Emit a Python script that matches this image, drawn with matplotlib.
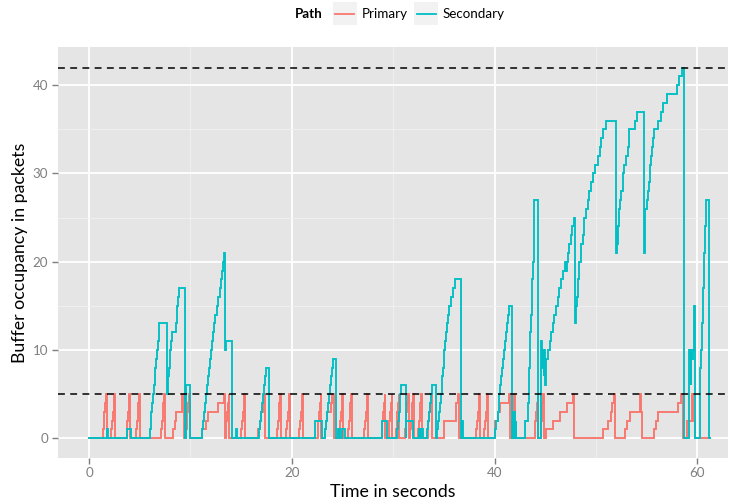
import matplotlib
matplotlib.use("Agg")
import matplotlib.pyplot as plt
from matplotlib.patches import Rectangle
from matplotlib.lines import Line2D
import numpy as np

plt.rcParams["font.family"] = ["Lato", "DejaVu Sans"]

# Buffer occupancy (packets) over time (s), as (time, level) change points
primary_steps = [
    (0, 0),
    (1.35, 1), (1.43, 2), (1.5, 3), (1.58, 4), (1.66, 5), (1.74, 0),
    (2.2, 1), (2.28, 2), (2.35, 3), (2.42, 4), (2.5, 5), (2.57, 0),
    (3.7, 1), (3.78, 2), (3.85, 3), (3.92, 4), (3.98, 5), (4.05, 0),
    (4.65, 1), (4.73, 2), (4.8, 3), (4.87, 4), (4.95, 5), (5.02, 0),
    (7.1, 1), (7.18, 2), (7.26, 3), (7.34, 4), (7.42, 5), (7.5, 0),
    (8.3, 1), (8.45, 2), (8.6, 3), (9.22, 5), (9.32, 0),
    (9.55, 1), (9.62, 2), (9.7, 3), (9.78, 4), (9.86, 5), (9.92, 0),
    (11.1, 1), (11.5, 2), (11.7, 3), (12.7, 4), (13.3, 5), (13.42, 0),
    (13.5, 2), (13.6, 3), (13.68, 4), (13.76, 5), (13.82, 0),
    (15.0, 1), (15.08, 2), (15.16, 3), (15.24, 4), (15.32, 5), (15.4, 0),
    (16.7, 1), (16.85, 2), (17.0, 3), (17.15, 4), (17.3, 5), (17.38, 0),
    (18.55, 1), (18.63, 2), (18.7, 3), (18.78, 4), (18.86, 5), (18.93, 0),
    (19.45, 1), (19.53, 2), (19.6, 3), (19.68, 4), (19.76, 5), (19.83, 0),
    (20.75, 1), (20.83, 2), (20.9, 3), (20.98, 4), (21.05, 5), (21.12, 0),
    (22.55, 1), (22.63, 2), (22.7, 3), (22.78, 4), (22.85, 5), (22.92, 0),
    (23.25, 1), (23.35, 2), (23.45, 3), (23.9, 4), (24.0, 5), (24.12, 0),
    (24.7, 1), (24.78, 2), (24.85, 3), (24.92, 4), (25.0, 5), (25.06, 0),
    (25.55, 1), (25.63, 2), (25.7, 3), (25.78, 4), (25.86, 5), (25.92, 0),
    (27.15, 1), (27.23, 2), (27.3, 3), (27.38, 4), (27.46, 5), (27.52, 0),
    (28.85, 1), (28.93, 2), (29.0, 3), (29.08, 4), (29.16, 5), (29.22, 0),
    (29.55, 1), (29.63, 2), (29.7, 3), (29.78, 4), (29.86, 5), (29.92, 0),
    (30.25, 1), (30.33, 2), (30.4, 3), (30.48, 4), (30.56, 5), (30.62, 0),
    (31.15, 1), (31.23, 2), (31.3, 3), (31.38, 4), (31.46, 5), (31.52, 0),
    (31.68, 1), (31.76, 2), (31.83, 3), (31.9, 4), (31.97, 5), (32.03, 0),
    (32.45, 1), (32.53, 2), (32.6, 3), (32.68, 4), (32.76, 5), (32.82, 0),
    (33.4, 1), (33.48, 2), (33.56, 3), (33.64, 4), (33.72, 5), (33.8, 0),
    (35.0, 2), (36.2, 4), (36.38, 5), (36.5, 0),
    (38.2, 1), (38.28, 2), (38.35, 3), (38.43, 4), (38.5, 5), (38.56, 0),
    (39.0, 1), (39.08, 2), (39.15, 3), (39.23, 4), (39.3, 5), (39.36, 0),
    (40.05, 2), (40.3, 3), (40.55, 4), (41.4, 5), (41.55, 0),
    (41.7, 2), (41.8, 3), (41.88, 4), (41.95, 5), (42.02, 0),
    (43.95, 1), (44.03, 2), (44.1, 3), (44.18, 4), (44.25, 5), (44.32, 0),
    (44.55, 2), (44.63, 3), (44.7, 4), (44.78, 5), (44.85, 0),
    (45.1, 1), (45.8, 2), (46.45, 3), (47.1, 4), (47.75, 5), (47.85, 0),
    (50.65, 1), (51.2, 2), (51.45, 3), (51.62, 4), (51.78, 5), (51.92, 0),
    (52.9, 1), (53.1, 2), (53.35, 3), (54.3, 5), (54.4, 3), (54.55, 0),
    (55.7, 1), (55.9, 2), (56.1, 3), (58.1, 4), (58.35, 5), (58.6, 0),
    (58.95, 2), (59.45, 5), (59.55, 2), (59.75, 0), (61.2, 0),
]

secondary_steps = [
    (0, 0), (1.75, 1), (1.85, 0), (3.7, 1), (4.15, 0),
    (6.0, 1), (6.08, 2), (6.15, 3), (6.23, 4), (6.3, 5), (6.38, 6), (6.46, 7),
    (6.54, 8), (6.62, 9), (6.7, 10), (6.78, 11), (6.86, 12), (6.95, 13),
    (7.68, 5), (7.75, 6), (7.8, 7), (7.88, 8), (7.95, 9), (8.02, 10), (8.1, 11),
    (8.2, 12), (8.55, 13), (8.65, 14), (8.72, 15), (8.8, 16), (8.88, 17),
    (9.45, 0), (9.55, 6), (9.98, 0),
    (11.1, 1), (11.2, 2), (11.3, 3), (11.4, 4), (11.5, 5), (11.6, 6), (11.7, 7),
    (11.8, 8), (11.9, 9), (12.0, 10), (12.1, 11), (12.25, 12), (12.35, 13),
    (12.45, 14), (12.6, 15), (12.75, 16), (12.88, 17), (12.98, 18), (13.08, 19),
    (13.18, 20), (13.28, 21), (13.45, 10), (13.52, 11), (14.1, 0),
    (14.45, 1), (14.55, 0),
    (16.8, 1), (16.9, 2), (17.0, 3), (17.1, 4), (17.2, 5), (17.3, 6), (17.4, 7),
    (17.5, 8), (17.8, 0),
    (22.3, 2), (22.95, 0),
    (23.3, 1), (23.4, 2), (23.5, 3), (23.6, 4), (23.7, 5), (23.78, 6),
    (23.86, 7), (23.94, 8), (24.02, 9), (24.4, 0),
    (24.55, 1), (24.75, 0), (24.95, 1), (25.25, 0),
    (28.85, 2), (29.35, 0),
    (30.4, 1), (30.5, 2), (30.56, 3), (30.64, 4), (30.72, 5), (30.8, 6),
    (31.22, 0), (31.3, 2), (31.95, 0), (32.5, 1), (32.6, 0), (32.75, 1), (32.9, 0),
    (33.3, 1), (33.4, 2), (33.5, 3), (33.6, 4), (33.7, 5), (33.8, 6), (34.22, 0),
    (34.35, 1), (34.45, 2), (34.55, 3), (34.65, 4), (34.75, 5), (34.8, 6),
    (34.85, 7), (34.95, 8), (35.0, 9), (35.05, 10), (35.15, 11), (35.25, 12),
    (35.35, 13), (35.45, 14), (35.55, 15), (35.7, 16), (35.85, 17), (36.05, 18),
    (36.7, 0), (36.8, 2), (36.9, 0),
    (40.0, 1), (40.1, 2), (40.3, 3), (40.42, 5), (40.5, 6), (40.62, 7),
    (40.72, 8), (40.82, 9), (40.95, 10), (41.03, 11), (41.12, 12), (41.22, 13),
    (41.32, 14), (41.42, 15), (41.72, 0), (41.8, 3), (41.85, 0), (41.95, 3),
    (42.0, 0), (42.08, 2), (42.15, 0),
    (43.0, 2), (43.28, 4), (43.35, 6), (43.42, 8), (43.48, 10), (43.54, 12),
    (43.6, 14), (43.66, 16), (43.72, 18), (43.78, 20), (43.84, 23), (43.9, 27),
    (44.28, 0),
    (44.6, 11), (44.68, 8), (44.76, 10), (44.84, 7), (44.92, 10), (45.0, 6),
    (45.1, 9), (45.25, 10), (45.42, 11), (45.58, 12), (45.75, 13), (45.9, 14),
    (46.07, 15), (46.23, 16), (46.4, 17), (46.56, 18), (46.73, 19), (46.9, 20),
    (47.05, 19), (47.1, 20), (47.2, 21), (47.38, 22), (47.52, 23), (47.68, 24),
    (47.82, 25), (47.92, 13), (48.0, 15), (48.08, 16), (48.2, 18), (48.35, 20),
    (48.5, 22), (48.68, 23), (48.85, 25), (49.0, 26), (49.18, 27), (49.35, 28),
    (49.5, 29), (49.68, 30), (49.95, 31), (50.18, 32), (50.35, 33), (50.5, 34),
    (50.72, 35), (51.0, 36), (52.0, 21), (52.06, 24), (52.12, 22), (52.18, 24),
    (52.3, 26), (52.38, 27), (52.5, 28), (52.62, 29), (52.7, 30), (52.8, 31),
    (52.98, 32), (53.15, 33), (53.22, 34), (53.3, 35), (53.8, 36), (54.05, 37),
    (54.7, 21), (54.8, 24), (54.88, 26), (55.0, 27), (55.1, 28), (55.2, 29),
    (55.28, 30), (55.32, 31), (55.38, 32), (55.52, 33), (55.6, 34), (55.68, 35),
    (56.1, 36), (56.4, 37), (56.65, 38), (57.03, 39), (57.96, 40), (58.21, 41),
    (58.45, 42), (58.68, 0),
    (59.2, 10), (59.3, 9), (59.34, 6), (59.38, 10), (59.48, 9), (59.55, 10),
    (59.65, 15), (59.8, 0),
    (60.3, 8), (60.38, 10), (60.48, 13), (60.58, 17), (60.68, 21), (60.78, 24),
    (60.88, 27), (61.12, 0), (61.2, 0),
]

series_names = ["Primary", "Secondary"]
series_colors = ["#F8766D", "#00BFC4"]
threshold_levels = [5, 42]
x_ticks = [0, 20, 40, 60]
y_ticks = [0, 10, 20, 30, 40]

fig = plt.figure(figsize=(7.29, 5.04), dpi=100)
W, H = 729, 504
ax = fig.add_axes([57.7 / W, (H - 457.7) / H, (727.5 - 57.7) / W, (457.7 - 47) / H])
ax.set_facecolor("#E5E5E5")

for name, color, steps in zip(series_names, series_colors,
                              [primary_steps, secondary_steps]):
    t = np.array([s[0] for s in steps])
    v = np.array([s[1] for s in steps])
    ax.plot(t, v, drawstyle="steps-post", color=color, lw=1.35, label=name,
            solid_joinstyle="miter", zorder=3)

for lvl in threshold_levels:
    ax.axhline(lvl, color="black", lw=1.1, ls=(0, (4.5, 3.5)), zorder=4)

ax.set_xlim(-3.087, 62.97)
ax.set_ylim(-2.21, 44.33)

ax.set_xticks(x_ticks)
ax.set_yticks(y_ticks)
ax.set_xticks([10, 30, 50], minor=True)
ax.set_yticks([5, 15, 25, 35], minor=True)
ax.grid(which="major", color="white", lw=1.3)
ax.grid(which="minor", color="#F2F2F2", lw=0.6)
ax.set_axisbelow(True)
for sp in ax.spines.values():
    sp.set_visible(False)
ax.tick_params(which="major", length=4, width=1, color="#7F7F7F",
               labelcolor="#7F7F7F", labelsize=9.6, pad=3)
ax.tick_params(which="minor", length=0)

ax.set_xlabel("Time in seconds", fontsize=12.8, labelpad=3)
ax.set_ylabel("Buffer occupancy in packets", fontsize=12.8, labelpad=3)

# Legend strip across the top
fig.text(309 / W, 1 - 14 / H, "Path", fontsize=9.6, fontweight="bold",
         ha="center", va="center")
key_x = [332.7, 414.0]
label_x = [361.5, 442.5]
for kx, lx, name, color in zip(key_x, label_x, series_names, series_colors):
    fig.patches.append(Rectangle((kx / W, 1 - 25 / H), 24 / W, 23 / H,
                                 transform=fig.transFigure, facecolor="#F2F2F2",
                                 edgecolor="none"))
    fig.lines.append(Line2D([(kx + 2.5) / W, (kx + 21.5) / W],
                            [1 - 14 / H, 1 - 14 / H], transform=fig.transFigure,
                            color=color, lw=1.3))
    fig.text(lx / W, 1 - 14 / H, name, fontsize=9.6, ha="left", va="center")

fig.savefig("out.png", dpi=100)
